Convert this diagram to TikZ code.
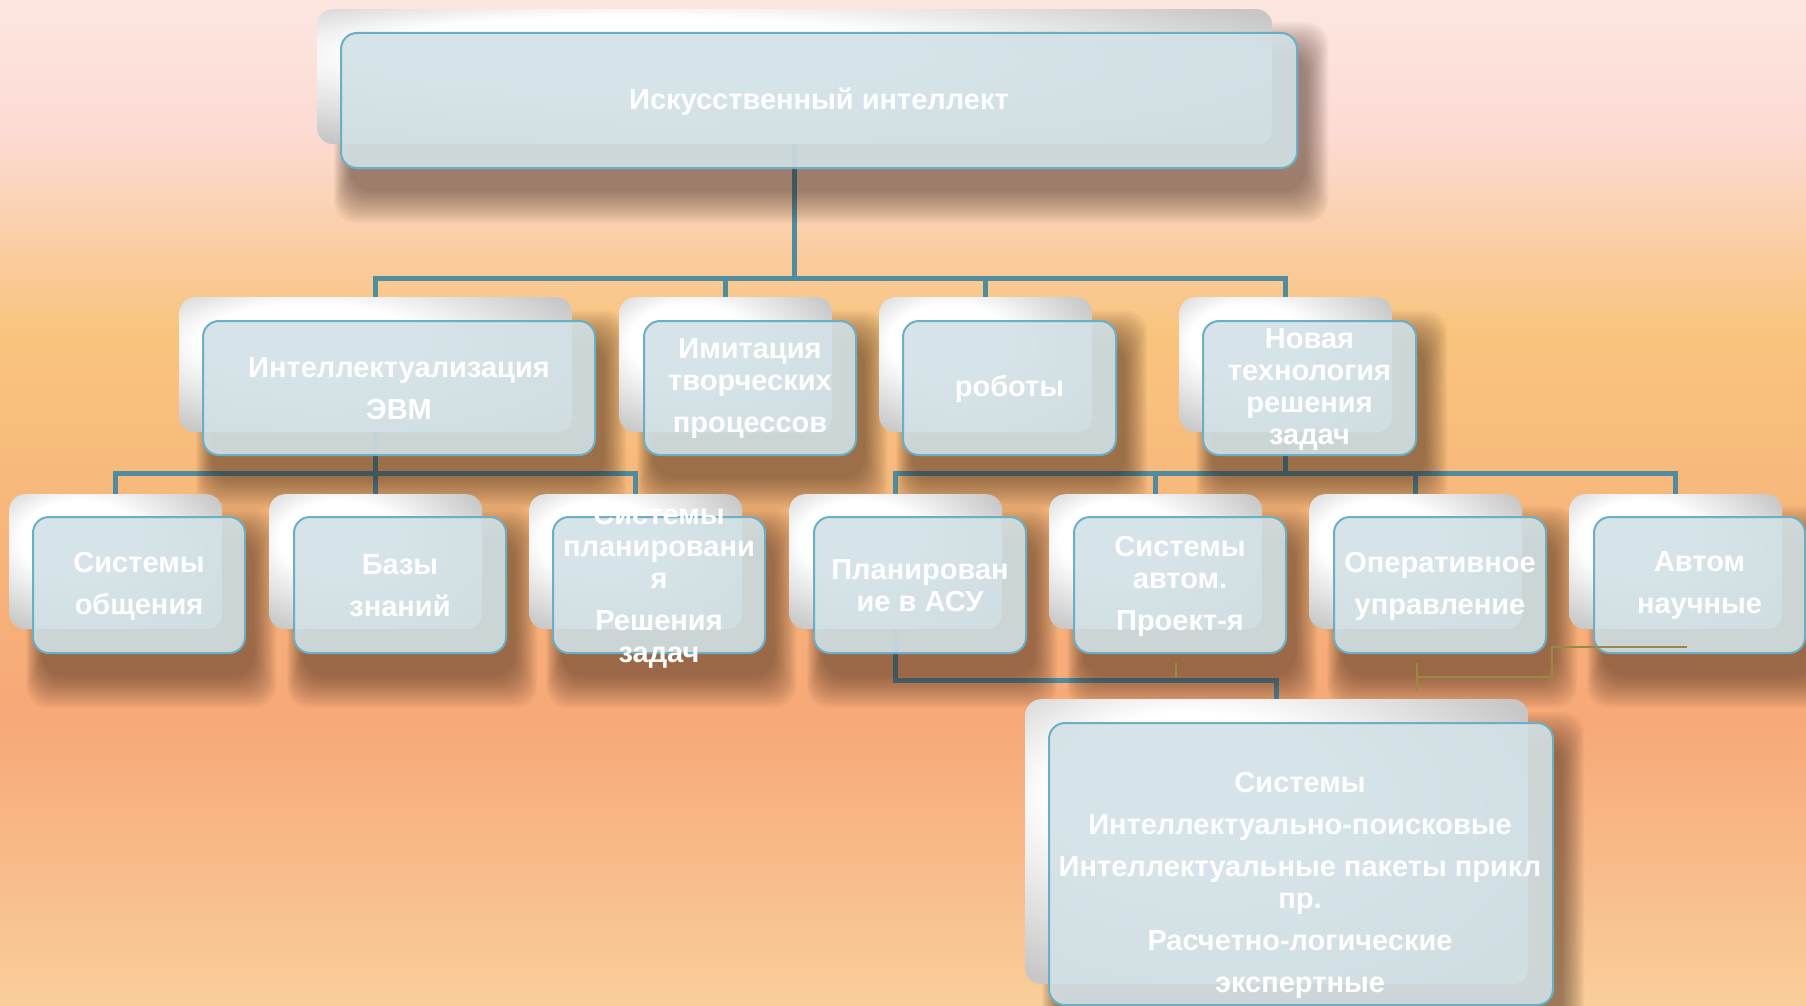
\documentclass[tikz,border=0pt]{standalone}
\usepackage{fontspec}
\setmainfont{Liberation Sans}
\usetikzlibrary{calc}
\pgfdeclarelayer{bgl}\pgfdeclarelayer{conl}\pgfdeclarelayer{shl}
\pgfsetlayers{bgl,conl,shl,main}
\definecolor{bgA}{HTML}{FDE6E0}
\definecolor{bgB}{HTML}{FCDBD4}
\definecolor{bgC}{HTML}{F9C47E}
\definecolor{bgD}{HTML}{F7A878}
\definecolor{bgE}{HTML}{F9CE9A}
\definecolor{conc}{HTML}{508C9E}
\definecolor{frontc}{HTML}{D2E1E6}
\definecolor{frontb}{HTML}{6AAFC5}
\definecolor{shc}{HTML}{3A2418}
\definecolor{olivec}{HTML}{958B45}
\pgfdeclareradialshading{backsh}{\pgfpoint{-12bp}{12bp}}{color(0bp)=(white); color(14bp)=(white); color(34bp)=(black!22); color(50bp)=(black!22)}
\tikzset{
  backbox/.style={rectangle, rounded corners=16pt, shade, shading=backsh, inner sep=0pt, anchor=north west},
  frontbox/.style={rectangle, rounded corners=16pt, fill=frontc, fill opacity=0.9, draw=frontb, line width=2pt, inner sep=0pt, anchor=north west},
  lbl/.style={text=white, font=\fontsize{29}{32}\selectfont\bfseries, align=center, inner sep=0pt, yshift=-1pt},
  conn/.style={draw=conc, line width=5pt},
  olive/.style={draw=olivec, line width=2.5pt},
}
\newcommand\dropshadow[1]{%
  \foreach \r in {0,2,...,32}{%
    \fill[shc, opacity=0.034, rounded corners=22pt] ($(#1.north west)+(10-0.5*\r,22-\r)$) rectangle ($(#1.south east)+(8+0.7*\r,22+\r)$);
  }%
}
\begin{document}
\begin{tikzpicture}[x=1pt,y=-1pt]
\useasboundingbox (0,0) rectangle (1806,1006);
\begin{pgfonlayer}{bgl}
  \fill[top color=bgA,bottom color=bgB] (0,0) rectangle (1806,131);
  \fill[top color=bgB,bottom color=bgC] (0,130) rectangle (1806,331);
  \fill[top color=bgC,bottom color=bgD] (0,330) rectangle (1806,721);
  \fill[top color=bgD,bottom color=bgE] (0,720) rectangle (1806,1006);
\end{pgfonlayer}
% level 1
\node[backbox, minimum width=955pt, minimum height=135pt] (b0) at (317,9) {};
\node[frontbox, minimum width=956pt, minimum height=135pt] (f0) at (340,32) {};
\node[lbl] (t0) at (f0.center) {Искусственный интеллект};
% level 2
\node[backbox, minimum width=393pt, minimum height=135pt] (bA) at (179,297) {};
\node[frontbox, minimum width=392pt, minimum height=134pt] (fA) at (202,320) {};
\node[lbl] (tA) at (fA.center) {Интеллектуализация\\[10pt]ЭВМ};
\node[backbox, minimum width=213pt, minimum height=135pt] (bB) at (619,297) {};
\node[frontbox, minimum width=212pt, minimum height=134pt] (fB) at (643,320) {};
\node[lbl] (tB) at (fB.center) {Имитация\\творческих\\[10pt]процессов};
\node[backbox, minimum width=213pt, minimum height=135pt] (bC) at (879,297) {};
\node[frontbox, minimum width=213pt, minimum height=134pt] (fC) at (902,320) {};
\node[lbl] (tC) at (fC.center) {роботы};
\node[backbox, minimum width=213pt, minimum height=135pt] (bD) at (1179,297) {};
\node[frontbox, minimum width=213pt, minimum height=134pt] (fD) at (1202,320) {};
\node[lbl] (tD) at (fD.center) {Новая\\технология\\решения\\задач};
% level 3
\node[backbox, minimum width=213pt, minimum height=135pt] (b1) at (9,494) {};
\node[frontbox, minimum width=212pt, minimum height=136pt] (f1) at (32,516) {};
\node[lbl] (t1) at (f1.center) {Системы\\[10pt]общения};
\node[backbox, minimum width=213pt, minimum height=135pt] (b2) at (269,494) {};
\node[frontbox, minimum width=212pt, minimum height=136pt] (f2) at (293,516) {};
\node[lbl] (t2) at (f2.center) {Базы\\[10pt]знаний};
\node[backbox, minimum width=213pt, minimum height=135pt] (b3) at (529,494) {};
\node[frontbox, minimum width=212pt, minimum height=136pt] (f3) at (552,516) {};
\node[lbl] (t3) at (f3.center) {Системы\\планировани\\я\\[10pt]Решения\\задач};
\node[backbox, minimum width=213pt, minimum height=135pt] (b4) at (789,494) {};
\node[frontbox, minimum width=212pt, minimum height=136pt] (f4) at (813,516) {};
\node[lbl] (t4) at (f4.center) {Планирован\\ие в АСУ};
\node[backbox, minimum width=213pt, minimum height=135pt] (b5) at (1049,494) {};
\node[frontbox, minimum width=212pt, minimum height=136pt] (f5) at (1073,516) {};
\node[lbl] (t5) at (f5.center) {Системы\\автом.\\[10pt]Проект-я};
\node[backbox, minimum width=213pt, minimum height=135pt] (b6) at (1309,494) {};
\node[frontbox, minimum width=212pt, minimum height=136pt] (f6) at (1333,516) {};
\node[lbl] (t6) at (f6.center) {Оперативное\\[10pt]управление};
\node[backbox, minimum width=213pt, minimum height=135pt] (b7) at (1569,494) {};
\node[frontbox, minimum width=211pt, minimum height=136pt] (f7) at (1593,516) {};
\node[lbl] (t7) at (f7.center) {Автом\\[10pt]научные};
% level 4
\node[backbox, minimum width=503pt, minimum height=285pt] (b8) at (1025,699) {};
\node[frontbox, minimum width=504pt, minimum height=282pt] (f8) at (1048,722) {};
\node[lbl] (t8) at (1300,884) {Системы\\[10pt]Интеллектуально-поисковые\\[10pt]Интеллектуальные пакеты прикл\\пр.\\[10pt]Расчетно-логические\\[10pt]экспертные};
% buses
\coordinate (bus1) at (0,278);
\coordinate (bus2) at (0,473);
\coordinate (bus3) at (0,680);
\begin{pgfonlayer}{conl}
  \foreach \c in {bA,bB,bC,bD}{\draw[conn] (b0.south) -- (b0.south |- bus1) -| (\c.north);}
  \foreach \c in {b1,b2,b3}{\draw[conn] (bA.south) -- (bA.south |- bus2) -| (\c.north);}
  \foreach \c in {b4,b5,b6,b7}{\draw[conn] (bD.south) -- (bD.south |- bus2) -| (\c.north);}
  \draw[conn] (b4.south) -- (b4.south |- bus3) -| (b8.north);
\end{pgfonlayer}
\begin{pgfonlayer}{shl}
  \foreach \f in {f0,fA,fB,fC,fD,f1,f2,f3,f4,f5,f6,f7,f8}{\dropshadow{\f}}
\end{pgfonlayer}
% olive strokes
\coordinate (o1) at (1176,663);
\coordinate (o2) at (1176,678);
\coordinate (o3) at (1417,663);
\coordinate (o4) at (1417,692);
\coordinate (o5) at (1417,677);
\coordinate (o6) at (1552,677);
\coordinate (o7) at (1552,647);
\coordinate (o8) at (1687,647);
\draw[olive] (o1) -- (o2);
\draw[olive] (o3) -- (o4);
\draw[olive] (o5) -- (o6) -- (o7) -- (o8);
\end{tikzpicture}
\end{document}
